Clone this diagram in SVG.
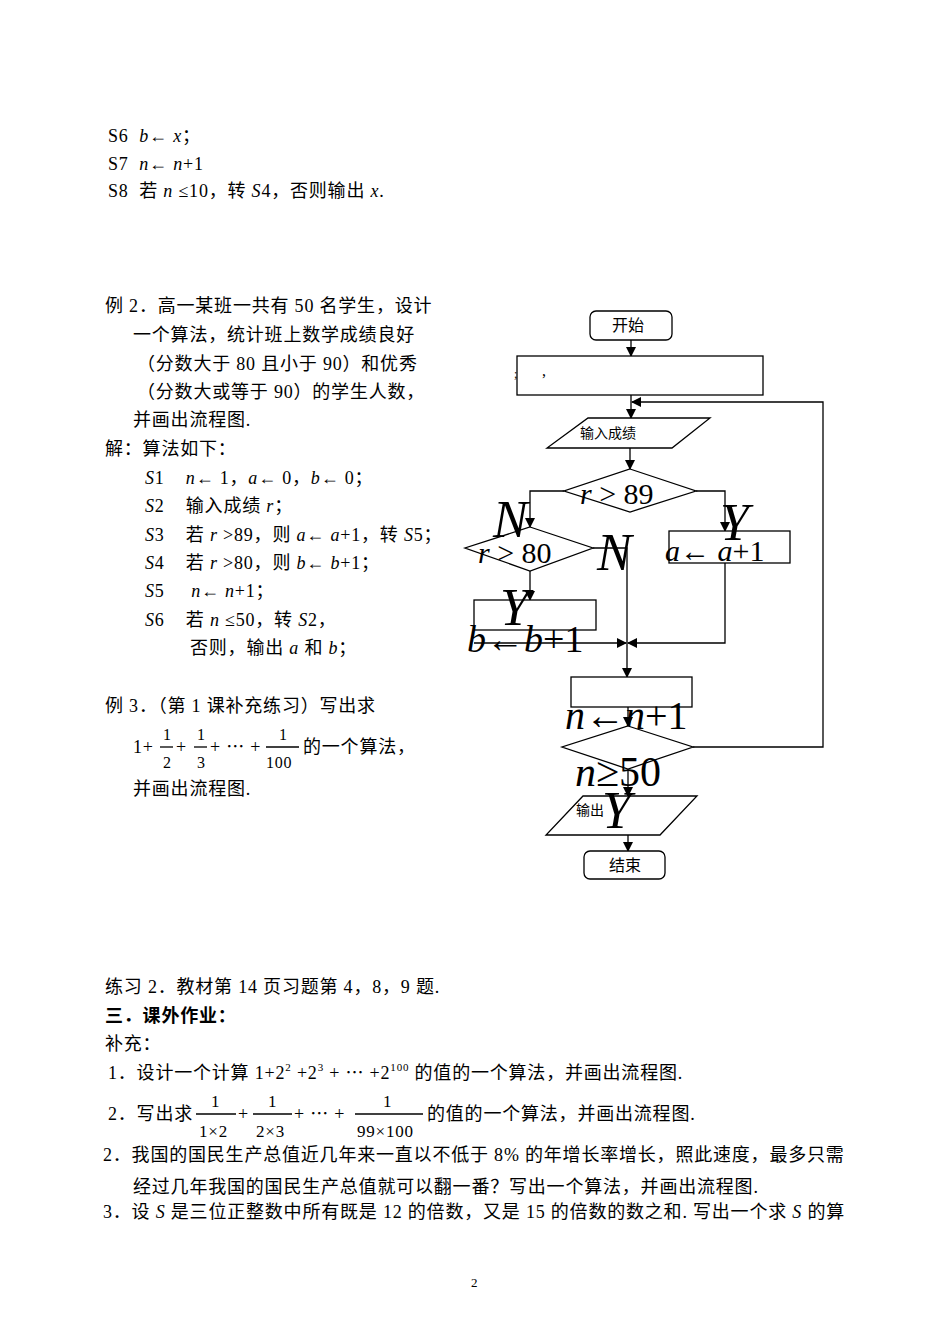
<svg xmlns="http://www.w3.org/2000/svg" width="950" height="1342" viewBox="0 0 950 1342" font-size="18">
<style>
text{font-family:"Liberation Serif","Noto Sans CJK SC",serif;fill:#000;white-space:pre;letter-spacing:0.8px}
.c{font-family:"Noto Sans CJK SC",sans-serif;letter-spacing:0}
.m{font-family:"Liberation Serif",serif;font-style:italic}
.big{font-family:"Liberation Serif",serif;font-style:italic}
.f{letter-spacing:0}
.s{fill:#fff;stroke:#000;stroke-width:1.3}
.l{fill:none;stroke:#000;stroke-width:1.3}
</style>
<defs><marker id="a" markerWidth="10" markerHeight="10" refX="9" refY="5" orient="auto" markerUnits="userSpaceOnUse"><path d="M0,0L10,5L0,10z" fill="#000"/></marker></defs>
<rect width="950" height="1342" fill="#fff"/>
<g id="toptext">
<text x="108" y="142">S6  <tspan class="m">b</tspan>← <tspan class="m">x</tspan>；</text>
<text x="108" y="170">S7  <tspan class="m">n</tspan>← <tspan class="m">n</tspan>+1</text>
<text x="108" y="197">S8  若 <tspan class="m">n</tspan> ≤10，转 <tspan class="m">S</tspan>4，否则输出 <tspan class="m">x</tspan>.</text>
</g>
<g id="example2">
<text x="105" y="312">例 2．高一某班一共有 50 名学生，设计</text>
<text x="133" y="341">一个算法，统计班上数学成绩良好</text>
<text x="137" y="370">（分数大于 80 且小于 90）和优秀</text>
<text x="137" y="398">（分数大或等于 90）的学生人数，</text>
<text x="133" y="426">并画出流程图.</text>
<text x="105" y="455">解：算法如下：</text>
<text x="145" y="484"><tspan class="m">S</tspan>1    <tspan class="m">n</tspan>← 1，<tspan class="m">a</tspan>← 0，<tspan class="m">b</tspan>← 0；</text>
<text x="145" y="512"><tspan class="m">S</tspan>2    输入成绩 <tspan class="m">r</tspan>；</text>
<text x="145" y="541"><tspan class="m">S</tspan>3    若 <tspan class="m">r</tspan> &gt;89，则 <tspan class="m">a</tspan>← <tspan class="m">a</tspan>+1，转 <tspan class="m">S</tspan>5；</text>
<text x="145" y="569"><tspan class="m">S</tspan>4    若 <tspan class="m">r</tspan> &gt;80，则 <tspan class="m">b</tspan>← <tspan class="m">b</tspan>+1；</text>
<text x="145" y="597"><tspan class="m">S</tspan>5     <tspan class="m">n</tspan>← <tspan class="m">n</tspan>+1；</text>
<text x="145" y="626"><tspan class="m">S</tspan>6    若 <tspan class="m">n</tspan> ≤50，转 <tspan class="m">S</tspan>2，</text>
<text x="190" y="654">否则，输出 <tspan class="m">a</tspan> 和 <tspan class="m">b</tspan>；</text>
</g>
<g id="example3">
<text x="105" y="712">例 3．（第 1 课补充练习）写出求</text>
<text x="133" y="753">1+</text><text x="163" y="740" font-size="16">1</text><line x1="160" y1="747" x2="173" y2="747" class="l" stroke-width="1"/><text x="163" y="768" font-size="16">2</text>
<text x="176" y="753">+</text><text x="197" y="740" font-size="16">1</text><line x1="194" y1="747" x2="207" y2="747" class="l" stroke-width="1"/><text x="197" y="768" font-size="16">3</text>
<text x="210" y="753">+ ⋯ +</text><text x="279" y="740" font-size="16">1</text><line x1="266" y1="747" x2="299" y2="747" class="l" stroke-width="1"/><text x="266" y="768" font-size="16">100</text>
<text x="303" y="753">的一个算法，</text>
<text x="133" y="795">并画出流程图.</text>
</g>
<g id="connectors">
<line x1="631" y1="340" x2="631" y2="356" class="l" marker-end="url(#a)"/>
<line x1="631" y1="395" x2="631" y2="418" class="l" marker-end="url(#a)"/>
<polyline points="693,747 823,747 823,402 632,402" class="l" marker-end="url(#a)"/>
<line x1="630" y1="448" x2="630" y2="469" class="l" marker-end="url(#a)"/>
<polyline points="564,491 530,491 530,527" class="l" marker-end="url(#a)"/>
<polyline points="696,491 725,491 725,531" class="l" marker-end="url(#a)"/>
<line x1="530" y1="571" x2="530" y2="600" class="l" marker-end="url(#a)"/>
<polyline points="593,548 627,548 627,677" class="l" marker-end="url(#a)"/>
<polyline points="725,563 725,643 628,643" class="l" marker-end="url(#a)"/>
<line x1="474" y1="643" x2="626" y2="643" class="l" marker-end="url(#a)"/>
<line x1="628" y1="707" x2="628" y2="726" class="l" marker-end="url(#a)"/>
<line x1="628" y1="769" x2="628" y2="796" class="l" marker-end="url(#a)"/>
<line x1="628" y1="835" x2="628" y2="851" class="l" marker-end="url(#a)"/>
</g>
<g id="start"><rect x="590" y="311" width="82" height="29" rx="6" class="s"/><text x="612" y="331" class="c" font-size="16">开始</text></g>
<g id="init"><rect x="517" y="356" width="246" height="39" class="s"/><text x="514" y="378" font-size="12">;</text><text x="542" y="376" font-size="16">,</text></g>
<g id="input"><polygon points="588,418 710,418 672,448 547,448" class="s"/><text x="580" y="438" class="c" font-size="14">输入成绩</text></g>
<g id="d89"><polygon points="630,469 696,491 630,512 564,491" class="s"/><text x="580" y="504" font-size="30" class="f"><tspan class="big">r</tspan> &gt; 89</text></g>
<g id="d80"><polygon points="530,527 593,548 530,571 465,548" class="s"/><text x="478" y="563" font-size="30" class="f"><tspan class="big">r</tspan> &gt; 80</text></g>
<g id="ainc"><rect x="669" y="531" width="121" height="32" class="s"/><text x="665" y="561" font-size="30" class="f"><tspan class="big">a</tspan>← <tspan class="big">a</tspan>+1</text></g>
<g id="binc"><rect x="474" y="600" width="122" height="30" class="s"/><text x="467" y="652" font-size="38" class="f"><tspan class="big">b</tspan>←<tspan class="big">b</tspan>+1</text></g>
<g id="ninc"><rect x="571" y="677" width="121" height="30" class="s"/><text x="565" y="729" font-size="40" class="f"><tspan class="big">n</tspan>←<tspan class="big">n</tspan>+1</text></g>
<g id="d50"><polygon points="628,726 693,747 628,769 562,747" class="s"/><text x="575" y="786" font-size="42" class="f"><tspan class="big">n</tspan>≥50</text></g>
<g id="output"><polygon points="583,796 697,796 660,835 546,835" class="s"/><text x="576" y="815" class="c" font-size="14">输出</text></g>
<g id="end"><rect x="584" y="851" width="81" height="28" rx="6" class="s"/><text x="609" y="871" class="c" font-size="16">结束</text></g>
<g id="labels">
<text x="493" y="537" font-size="52" class="big f">N</text>
<text x="597" y="570" font-size="52" class="big f">N</text>
<text x="720" y="540" font-size="52" class="big f">Y</text>
<text x="500" y="625" font-size="52" class="big f">Y</text>
<text x="602" y="828" font-size="52" class="big f">Y</text>
</g>
<g id="bottomtext">
<text x="105" y="993">练习 2．教材第 14 页习题第 4，8，9 题.</text>
<text x="105" y="1022" font-weight="bold">三．课外作业：</text>
<text x="105" y="1050">补充：</text>
<text x="108" y="1079">1．设计一个计算 1+2<tspan font-size="11" dy="-8">2</tspan><tspan dy="8"> +2</tspan><tspan font-size="11" dy="-8">3</tspan><tspan dy="8"> + ⋯ +2</tspan><tspan font-size="11" dy="-8">100</tspan><tspan dy="8"> 的值的一个算法，并画出流程图.</tspan></text>
<text x="108" y="1120">2．写出求</text>
<text x="211" y="1107" font-size="17">1</text><line x1="196" y1="1114" x2="236" y2="1114" class="l" stroke-width="1"/><text x="199" y="1137" font-size="17">1×2</text>
<text x="238" y="1120">+</text>
<text x="268" y="1107" font-size="17">1</text><line x1="253" y1="1114" x2="292" y2="1114" class="l" stroke-width="1"/><text x="256" y="1137" font-size="17">2×3</text>
<text x="294" y="1120">+ ⋯ +</text>
<text x="383" y="1107" font-size="17">1</text><line x1="355" y1="1114" x2="423" y2="1114" class="l" stroke-width="1"/><text x="357" y="1137" font-size="17">99×100</text>
<text x="427" y="1120">的值的一个算法，并画出流程图.</text>
<text x="103" y="1161">2．我国的国民生产总值近几年来一直以不低于 8% 的年增长率增长，照此速度，最多只需</text>
<text x="133" y="1193">经过几年我国的国民生产总值就可以翻一番？写出一个算法，并画出流程图.</text>
<text x="103" y="1218">3．设 <tspan class="m">S</tspan> 是三位正整数中所有既是 12 的倍数，又是 15 的倍数的数之和. 写出一个求 <tspan class="m">S</tspan> 的算</text>
<text x="471" y="1287" font-size="13">2</text>
</g>
</svg>
